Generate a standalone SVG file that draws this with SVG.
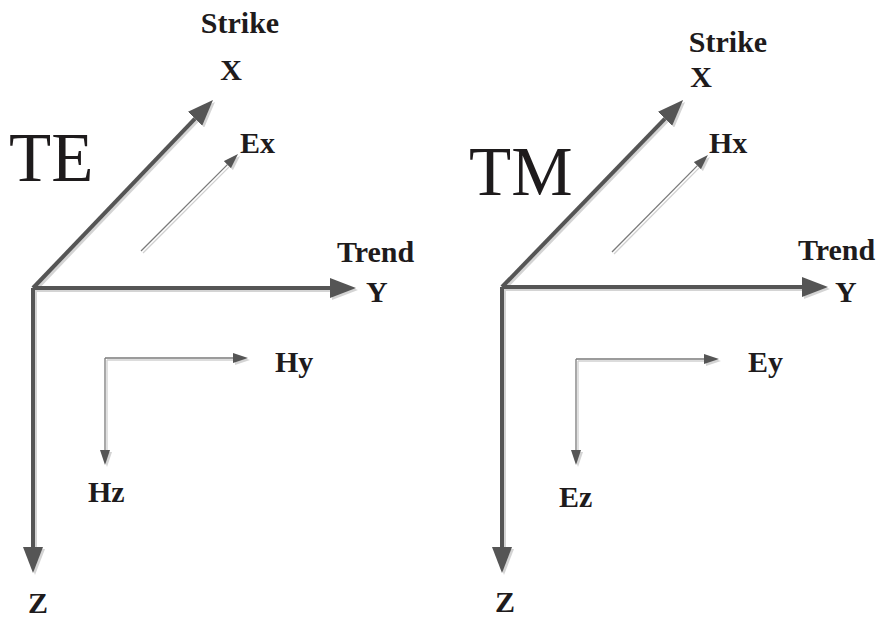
<svg xmlns="http://www.w3.org/2000/svg" width="879" height="618" viewBox="0 0 879 618">
<style>
.axis{fill:none;stroke:#555;stroke-width:4}
.axs{fill:none;stroke:#d4d4d4;stroke-width:4}
.thin{fill:none;stroke:#7a7a7a;stroke-width:1.3}
.ths{fill:none;stroke:#d0d0d0;stroke-width:1.3}
.lbl{font-family:"Liberation Serif","Times New Roman",serif;font-weight:bold;font-size:30px;fill:#1e1b1c}
.big{font-family:"Liberation Serif","Times New Roman",serif;font-size:69px;fill:#1e1b1c}
</style>
<defs>
<marker id="ab" viewBox="0 0 26 20" refX="0" refY="10" markerWidth="26" markerHeight="20" markerUnits="userSpaceOnUse" orient="auto"><path d="M0,0 L26,10 L0,20 z" fill="#555"/></marker>
<marker id="abs" viewBox="0 0 26 20" refX="0" refY="10" markerWidth="26" markerHeight="20" markerUnits="userSpaceOnUse" orient="auto"><path d="M0,0 L26,10 L0,20 z" fill="#d4d4d4"/></marker>
<marker id="as" viewBox="0 0 15 10" refX="0" refY="5" markerWidth="15" markerHeight="10" markerUnits="userSpaceOnUse" orient="auto"><path d="M0,0 L15,5 L0,10 z" fill="#555"/></marker>
<marker id="ass" viewBox="0 0 15 10" refX="0" refY="5" markerWidth="15" markerHeight="10" markerUnits="userSpaceOnUse" orient="auto"><path d="M0,0 L15,5 L0,10 z" fill="#d4d4d4"/></marker>
</defs>
<rect width="879" height="618" fill="#fff"/>
<g id="connectors">
  <g transform="translate(2,2)">
    <path class="axs" d="M33,288 L195,118.7" marker-end="url(#abs)"/>
    <path class="axs" d="M33,288 L330,288" marker-end="url(#abs)"/>
    <path class="axs" d="M33,288 L33,547" marker-end="url(#abs)"/>
    <path class="ths" d="M141,251 L227.4,164.6" marker-end="url(#ass)"/>
    <path class="ths" d="M105,358 L233,358" marker-end="url(#ass)"/>
    <path class="ths" d="M105,358 L105,450" marker-end="url(#ass)"/>
    <path class="axs" d="M502,287 L665,118.7" marker-end="url(#abs)"/>
    <path class="axs" d="M502,287 L802,287" marker-end="url(#abs)"/>
    <path class="axs" d="M502,287 L502,547" marker-end="url(#abs)"/>
    <path class="ths" d="M612,252 L697.4,165.6" marker-end="url(#ass)"/>
    <path class="ths" d="M576,359 L704,359" marker-end="url(#ass)"/>
    <path class="ths" d="M576,359 L576,450" marker-end="url(#ass)"/>
  </g>
  <path class="axis" d="M33,288 L195,118.7" marker-end="url(#ab)"/>
  <path class="axis" d="M33,288 L330,288" marker-end="url(#ab)"/>
  <path class="axis" d="M33,288 L33,547" marker-end="url(#ab)"/>
  <path class="thin" d="M141,251 L227.4,164.6" marker-end="url(#as)"/>
  <path class="thin" d="M105,358 L233,358" marker-end="url(#as)"/>
  <path class="thin" d="M105,358 L105,450" marker-end="url(#as)"/>
  <path class="axis" d="M502,287 L665,118.7" marker-end="url(#ab)"/>
  <path class="axis" d="M502,287 L802,287" marker-end="url(#ab)"/>
  <path class="axis" d="M502,287 L502,547" marker-end="url(#ab)"/>
  <path class="thin" d="M612,252 L697.4,165.6" marker-end="url(#as)"/>
  <path class="thin" d="M576,359 L704,359" marker-end="url(#as)"/>
  <path class="thin" d="M576,359 L576,450" marker-end="url(#as)"/>
</g>
<g id="te">
  <text class="big" x="9" y="181">TE</text>
  <text class="lbl" x="240" y="33" text-anchor="middle">Strike</text>
  <text class="lbl" x="231" y="80" text-anchor="middle">X</text>
  <text class="lbl" x="240" y="153">Ex</text>
  <text class="lbl" x="337" y="262">Trend</text>
  <text class="lbl" x="366" y="302">Y</text>
  <text class="lbl" x="275" y="372">Hy</text>
  <text class="lbl" x="88" y="502">Hz</text>
  <text class="lbl" x="28" y="613">Z</text>
</g>
<g id="tm">
  <text class="big" x="469" y="195">TM</text>
  <text class="lbl" x="728" y="52" text-anchor="middle">Strike</text>
  <text class="lbl" x="701" y="87" text-anchor="middle">X</text>
  <text class="lbl" x="709" y="153">Hx</text>
  <text class="lbl" x="798" y="260">Trend</text>
  <text class="lbl" x="835" y="302">Y</text>
  <text class="lbl" x="748" y="372">Ey</text>
  <text class="lbl" x="559" y="507">Ez</text>
  <text class="lbl" x="495" y="612">Z</text>
</g>
</svg>
